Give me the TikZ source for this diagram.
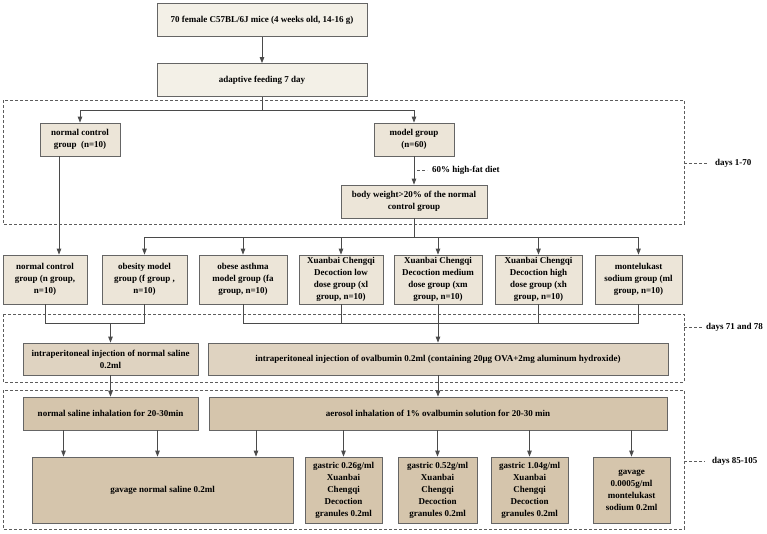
\documentclass[tikz,border=0pt]{standalone}
\usepackage{fontspec}
\setmainfont{Liberation Serif}
\usetikzlibrary{arrows.meta}
\definecolor{creme}{HTML}{F3F0E7}
\definecolor{beigeA}{HTML}{ECE5D8}
\definecolor{beigeB}{HTML}{DFD3C1}
\definecolor{beigeC}{HTML}{D5C5AC}
\definecolor{trait}{HTML}{4A4A4A}
\tikzset{
	boite/.style={draw=trait!85, line width=0.8pt, align=center, inner sep=1pt,
		font=\bfseries\fontsize{9}{12}\selectfont},
	ligne/.style={draw=trait, line width=0.9pt},
	fleche/.style={ligne, -{Triangle[length=6pt,width=4.5pt]}},
	zone/.style={draw=trait!90, dash pattern=on 3pt off 2pt, line width=0.7pt},
	renvoi/.style={draw=trait!90, dash pattern=on 3pt off 2pt, line width=0.7pt, shorten >=6pt},
	etiq/.style={font=\bfseries\fontsize{9}{10}\selectfont, inner sep=1pt}
}
\begin{document}
\begin{tikzpicture}[x=1pt,y=-1pt]
		\useasboundingbox (0,0) rectangle (767,533);
		% Zones
		\draw[zone] (3,100) rectangle (684,224);
		\draw[zone] (3,314) rectangle (684,382);
		\draw[zone] (3,390) rectangle (684,529);
		
		% Haut
		\node[boite, fill=creme, minimum width=210pt, minimum height=33pt] (souris) at (262,20) {70 female C57BL/6J mice (4 weeks old, 14-16 g)};
		\node[boite, fill=creme, minimum width=210pt, minimum height=33pt] (adapt) at (262,80) {adaptive feeding 7 day};
		\draw[fleche] (souris) -- (adapt);
		
		% Jours 1-70
		\node[boite, fill=beigeA, minimum width=80pt, minimum height=33pt] (temoin) at (80,139.5) {normal control\\group\enspace(n=10)};
		\node[boite, fill=beigeA, minimum width=80pt, minimum height=33pt] (modele) at (414,139.5) {model group\\(n=60)};
		\node[boite, fill=beigeA, minimum width=146pt, minimum height=33pt] (poids) at (414,201.5) {body weight>20\% of the normal\\control group};
		\draw[ligne] (adapt.south) -- (262,110) coordinate (b1);
		\draw[fleche] (b1) -| (temoin);
		\draw[fleche] (b1) -| (modele);
		\draw[fleche] (modele) -- (poids);
		\coordinate (regime) at (417,170);
		\node[etiq, anchor=west] (diete) at (431,170) {60\% high-fat diet};
		\draw[renvoi, shorten >=4pt] (regime) -- (diete.west);
		
		% Groupes
		\node[boite, fill=beigeA, minimum width=84pt, minimum height=49pt] (gn) at (45,279.5) {normal control\\group (n group,\\n=10)};
		\node[boite, fill=beigeA, minimum width=85pt, minimum height=49pt] (gf) at (144.5,279.5) {obesity model\\group (f group ,\\n=10)};
		\node[boite, fill=beigeA, minimum width=88pt, minimum height=49pt] (gfa) at (243,279.5) {obese asthma\\model group (fa\\group, n=10)};
		\node[boite, fill=beigeA, minimum width=84pt, minimum height=49pt] (gxl) at (341,279.5) {Xuanbai Chengqi\\Decoction low\\dose group (xl\\group, n=10)};
		\node[boite, fill=beigeA, minimum width=88pt, minimum height=49pt] (gxm) at (438,279.5) {Xuanbai Chengqi\\Decoction medium\\dose group (xm\\group, n=10)};
		\node[boite, fill=beigeA, minimum width=87pt, minimum height=49pt] (gxh) at (538.5,279.5) {Xuanbai Chengqi\\Decoction high\\dose group (xh\\group, n=10)};
		\node[boite, fill=beigeA, minimum width=87pt, minimum height=49pt] (gml) at (638.5,279.5) {montelukast\\sodium group (ml\\group, n=10)};
		\coordinate (nc) at ([xshift=-21pt]temoin.south);
		\draw[fleche] (nc) -- (nc |- gn.north);
		\draw[ligne] (poids.south) -- (414,237) coordinate (b2);
		\draw[ligne] (b2 -| gf) -- (b2 -| gml);
		\foreach \g in {gf,gfa,gxl,gxm,gxh,gml}
			\draw[fleche] (b2 -| \g) -- (\g);
		
		% Jours 71 et 78
		\node[boite, fill=beigeB, minimum width=175pt, minimum height=32pt] (inj1) at (110.5,359) {intraperitoneal injection of normal saline\\0.2ml};
		\node[boite, fill=beigeB, minimum width=460pt, minimum height=32pt] (inj2) at (438,359) {intraperitoneal injection of ovalbumin 0.2ml (containing 20μg OVA+2mg aluminum hydroxide)};
		\coordinate (j1) at (110.5,323);
		\coordinate (j2) at (438,323);
		\draw[ligne] (gn.south) -- (gn.south |- j1) -- (gf.south |- j1) -- (gf.south);
		\draw[ligne] (gfa.south) -- (gfa.south |- j2) -- (gml.south |- j2) -- (gml.south);
		\foreach \g in {gxl,gxm,gxh}
			\draw[ligne] (\g.south) -- (\g.south |- j2);
		\draw[fleche] (j1) -- (inj1);
		\draw[fleche] (j2) -- (inj2);
		
		% Jours 85-105
		\node[boite, fill=beigeC, minimum width=175pt, minimum height=33pt] (inh1) at (110.5,413.5) {normal saline inhalation for 20-30min};
		\node[boite, fill=beigeC, minimum width=458pt, minimum height=33pt] (inh2) at (438,413.5) {aerosol inhalation of 1\% ovalbumin solution for 20-30 min};
		\node[boite, fill=beigeC, minimum width=261pt, minimum height=66pt] (gvn) at (162.5,490) {gavage normal saline 0.2ml};
		\node[boite, fill=beigeC, minimum width=77pt, minimum height=66pt] (gl) at (343.5,490) {gastric 0.26g/ml\\Xuanbai\\Chengqi\\Decoction\\granules 0.2ml};
		\node[boite, fill=beigeC, minimum width=79pt, minimum height=66pt] (gm) at (437.5,490) {gastric 0.52g/ml\\Xuanbai\\Chengqi\\Decoction\\granules 0.2ml};
		\node[boite, fill=beigeC, minimum width=77pt, minimum height=66pt] (gh) at (529.5,490) {gastric 1.04g/ml\\Xuanbai\\Chengqi\\Decoction\\granules 0.2ml};
		\node[boite, fill=beigeC, minimum width=77pt, minimum height=66pt] (gvm) at (631.5,490) {gavage\\0.0005g/ml\\montelukast\\sodium 0.2ml};
		\draw[fleche] (inj1) -- (inh1);
		\draw[fleche] (inj2) -- (inh2);
		\foreach \dx in {-47,47} {
			\coordinate (p) at ([xshift=\dx pt]inh1.south);
			\draw[fleche] (p) -- (p |- gvn.north);
		}
		\coordinate (q) at (inh2.south -| 256,0);
		\draw[fleche] (q) -- (q |- gvn.north);
		\foreach \b in {gl,gm,gh,gvm}
			\draw[fleche] (inh2.south -| \b) -- (\b);
		
		% Etiquettes des jours
		\coordinate (zA) at (684,163);
		\coordinate (zB) at (684,327);
		\coordinate (zC) at (684,461);
		\node[etiq, anchor=west] (jA) at (714,163) {days 1-70};
		\node[etiq, anchor=west] (jB) at (705,327) {days 71 and 78};
		\node[etiq, anchor=west] (jC) at (711,461) {days 85-105};
		\draw[renvoi] (zA) -- (jA.west);
		\draw[renvoi, shorten >=3pt] (zB) -- (jB.west);
		\draw[renvoi] (zC) -- (jC.west);
	\end{tikzpicture}
\end{document}
